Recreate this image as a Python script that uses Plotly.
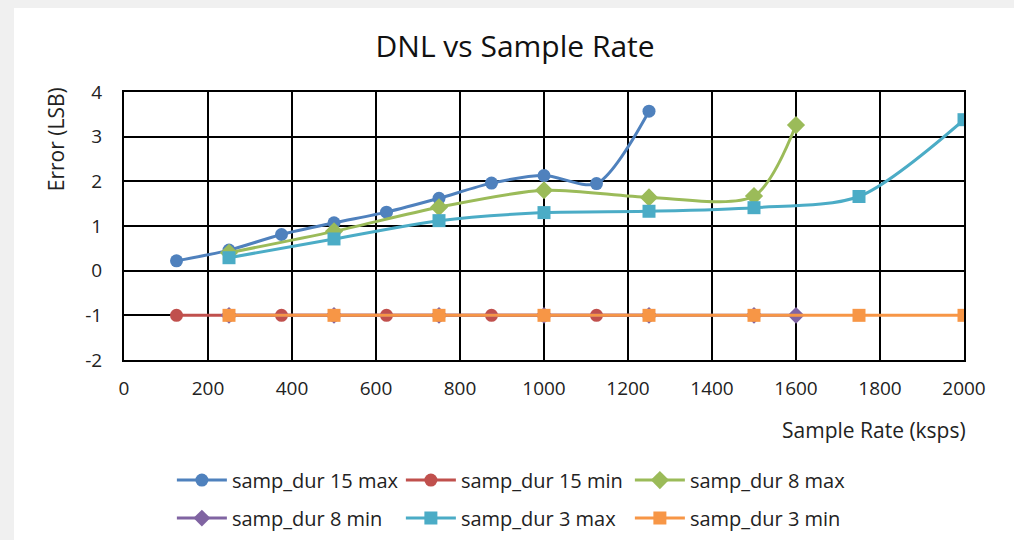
import plotly.graph_objects as go

# Sample rates (ksps) used by each sample-duration setting
rate_15 = [125, 250, 375, 500, 625, 750, 875, 1000, 1125, 1250]
rate_8 = [250, 500, 750, 1000, 1250, 1500, 1600]
rate_3 = [250, 500, 750, 1000, 1250, 1500, 1750, 2000]

# DNL error (LSB)
dnl_15_max = [0.22, 0.46, 0.81, 1.07, 1.31, 1.62, 1.96, 2.13, 1.95, 3.57]
dnl_15_min = [-1, -1, -1, -1, -1, -1, -1, -1, -1, -1]
dnl_8_max = [0.40, 0.88, 1.42, 1.80, 1.64, 1.67, 3.26]
dnl_8_min = [-1, -1, -1, -1, -1, -1, -1]
dnl_3_max = [0.29, 0.71, 1.12, 1.30, 1.33, 1.41, 1.66, 3.38]
dnl_3_min = [-1, -1, -1, -1, -1, -1, -1, -1]

# axis ticks (plain hyphen for negatives)
y_ticks = [-2, -1, 0, 1, 2, 3, 4]
y_tick_text = ["-2", "-1", "0", "1", "2", "3", "4"]

series = [
    ("samp_dur 15 max", rate_15, dnl_15_max, "#4f81bd", "circle", 13, "legend"),
    ("samp_dur 15 min", rate_15, dnl_15_min, "#c0504d", "circle", 13, "legend"),
    ("samp_dur 8 max", rate_8, dnl_8_max, "#9bbb59", "diamond", 14, "legend"),
    ("samp_dur 8 min", rate_8, dnl_8_min, "#8064a2", "diamond", 13, "legend2"),
    ("samp_dur 3 max", rate_3, dnl_3_max, "#4bacc6", "square", 13, "legend2"),
    ("samp_dur 3 min", rate_3, dnl_3_min, "#f79646", "square", 13, "legend2"),
]

FONT = "Open Sans"
TXT = "#222"

fig = go.Figure()
for name, xs, ys, color, symbol, size, leg in series:
    fig.add_trace(go.Scatter(
        x=xs, y=ys, name=name, mode="lines+markers",
        line=dict(color=color, width=3, shape="spline", smoothing=0.8),
        marker=dict(color=color, symbol=symbol, size=size),
        legend=leg,
    ))

# white chart panel on the grey page
fig.add_shape(type="rect", xref="paper", yref="paper",
              x0=-0.131, x1=1.1, y0=-0.7, y1=1.313,
              fillcolor="white", line=dict(width=0), layer="below")

legend_common = dict(
    orientation="h", xref="paper", yref="paper", xanchor="left", yanchor="middle",
    font=dict(family=FONT, size=20, color=TXT),
    bgcolor="rgba(0,0,0,0)", entrywidth=164, entrywidthmode="pixels",
    itemwidth=50,
)

fig.update_layout(
    width=1014, height=540,
    margin=dict(l=124, r=50, t=92, b=180, autoexpand=False),
    paper_bgcolor="#f0f0f0", plot_bgcolor="white",
    font=dict(family=FONT, size=19, color=TXT),
    title=dict(text="DNL vs Sample Rate", x=0.508, xanchor="center",
               y=0.913, yanchor="middle",
               font=dict(family=FONT, size=30, color="#111")),
    showlegend=True,
    legend=dict(x=0.057, y=-0.448, **legend_common),
    legend2=dict(x=0.057, y=-0.590, **legend_common),
    xaxis=dict(range=[0, 2000], dtick=200, tick0=0,
               showgrid=True, gridcolor="black", gridwidth=2,
               showline=True, linecolor="black", linewidth=2, mirror=True,
               ticks="outside", ticklen=10, tickcolor="rgba(0,0,0,0)",
               zeroline=False, tickfont=dict(family=FONT, size=19, color=TXT)),
    yaxis=dict(range=[-2, 4], tickmode="array", tickvals=y_ticks, ticktext=y_tick_text,
               showgrid=True, gridcolor="black", gridwidth=2,
               showline=True, linecolor="black", linewidth=2, mirror=True,
               ticks="outside", ticklen=16, tickcolor="rgba(0,0,0,0)",
               zeroline=False, tickfont=dict(family=FONT, size=19, color=TXT)),
    annotations=[
        dict(text="Sample Rate (ksps)", xref="paper", yref="paper",
             x=1.005, y=-0.261, xanchor="right", yanchor="middle",
             showarrow=False, font=dict(family=FONT, size=21, color=TXT)),
        dict(text="Error (LSB)", xref="paper", yref="paper",
             x=-0.08, y=0.823, xanchor="center", yanchor="middle", textangle=-90,
             showarrow=False, font=dict(family=FONT, size=21, color=TXT)),
    ],
)

fig.write_html("out.html")
